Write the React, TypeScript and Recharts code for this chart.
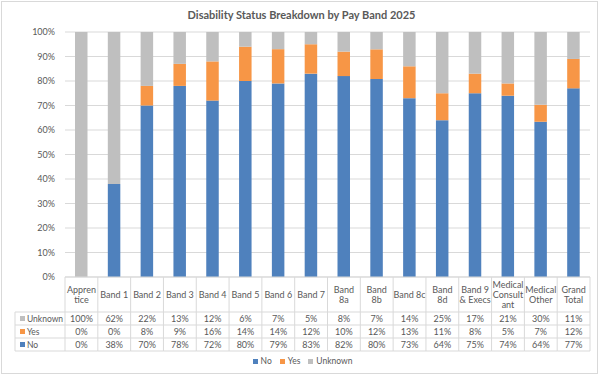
import React from 'react';
import { BarChart, Bar, XAxis, YAxis, CartesianGrid, Legend } from 'recharts';

const categories = ['Apprentice', 'Band 1', 'Band 2', 'Band 3', 'Band 4', 'Band 5', 'Band 6', 'Band 7', 'Band 8a', 'Band 8b', 'Band 8c', 'Band 8d', 'Band 9 & Execs', 'Medical Consultant', 'Medical Other', 'Grand Total'];
const headerLines = [['Appren', 'tice'], ['Band 1'], ['Band 2'], ['Band 3'], ['Band 4'], ['Band 5'], ['Band 6'], ['Band 7'], ['Band', '8a'], ['Band', '8b'], ['Band 8c'], ['Band', '8d'], ['Band 9', '& Execs'], ['Medical', 'Consult', 'ant'], ['Medical', 'Other'], ['Grand', 'Total']];
const noValues = [0, 38, 70, 78, 72, 80, 79, 83, 82, 80, 73, 64, 75, 74, 64, 77];
const yesValues = [0, 0, 8, 9, 16, 14, 14, 12, 10, 12, 13, 11, 8, 5, 7, 12];
const unknownValues = [100, 62, 22, 13, 12, 6, 7, 5, 8, 7, 14, 25, 17, 21, 30, 11];
const yTicks = [0, 0.1, 0.2, 0.3, 0.4, 0.5, 0.6, 0.7, 0.8, 0.9, 1];

const seriesInfo = [
  { key: 'No', color: '#4F81BD', values: noValues },
  { key: 'Yes', color: '#F79646', values: yesValues },
  { key: 'Unknown', color: '#BFBFBF', values: unknownValues },
];

const data = categories.map((c, i) => ({
  name: c,
  No: noValues[i],
  Yes: yesValues[i],
  Unknown: unknownValues[i],
}));

const FONT = 'Lato, "Open Sans", sans-serif';
const TEXT = '#595959';
const GRID = '#D9D9D9';
const COL_W = (590 - 65) / categories.length;
const ROW_LINES = [35, 48, 61, 74];
const ROW_TEXT = [41.5, 54.5, 67.5];
const tableRows = [seriesInfo[2], seriesInfo[1], seriesInfo[0]];

const fmt = (v: number) => `${v}%`;

function TableTick(props: any) {
  const { x, y, payload } = props;
  const i = payload.index;
  const left = x - COL_W / 2;
  const right = x + COL_W / 2;
  const lines = headerLines[i];
  const startY = y + 17 - ((lines.length - 1) * 10) / 2;
  return (
    <g>
      <line x1={left} x2={left} y1={y} y2={y + 74} stroke={GRID} />
      {i === categories.length - 1 && <line x1={right} x2={right} y1={y} y2={y + 74} stroke={GRID} />}
      {ROW_LINES.map((r) => (
        <line key={r} x1={left} x2={right} y1={y + r} y2={y + r} stroke={GRID} />
      ))}
      {lines.map((t, k) => (
        <text key={k} x={x} y={startY + k * 10} textAnchor="middle" dominantBaseline="central" fill={TEXT} fontSize={9} fontFamily={FONT}>
          {t}
        </text>
      ))}
      {tableRows.map((s, k) => (
        <text key={s.key} x={x} y={y + ROW_TEXT[k]} textAnchor="middle" dominantBaseline="central" fill={TEXT} fontSize={9} fontFamily={FONT}>
          {fmt(s.values[i])}
        </text>
      ))}
      {i === 0 && (
        <g>
          <line x1={15} x2={15} y1={y + 35} y2={y + 74} stroke={GRID} />
          {ROW_LINES.map((r) => (
            <line key={r} x1={15} x2={left} y1={y + r} y2={y + r} stroke={GRID} />
          ))}
          {tableRows.map((s, k) => (
            <g key={s.key}>
              <rect x={20} y={y + ROW_TEXT[k] - 2.5} width={5} height={5} fill={s.color} />
              <text x={27} y={y + ROW_TEXT[k]} dominantBaseline="central" fill={TEXT} fontSize={8.5} fontFamily={FONT}>
                {s.key}
              </text>
            </g>
          ))}
        </g>
      )}
    </g>
  );
}

function LegendContent() {
  return (
    <div style={{ height: 20, display: 'flex', justifyContent: 'center', alignItems: 'center', fontFamily: FONT, fontSize: 8.5, color: TEXT }}>
      {seriesInfo.map((s) => (
        <div key={s.key} style={{ display: 'flex', alignItems: 'center', margin: '0 4px' }}>
          <div style={{ width: 5, height: 5, background: s.color, marginRight: 3 }} />
          <span>{s.key}</span>
        </div>
      ))}
    </div>
  );
}

export default function App() {
  return (
    <div style={{ position: 'absolute', left: 0, top: 0, width: 603, height: 377, background: '#fff' }}>
      <div style={{ position: 'absolute', left: 1, top: 1, width: 597, height: 373, border: `1px solid ${GRID}`, boxSizing: 'border-box' }} />
      <div style={{ position: 'absolute', left: 0, top: 7, width: 603, textAlign: 'center', fontFamily: FONT, fontWeight: 'bold', fontSize: 11, color: TEXT, lineHeight: '16px' }}>
        Disability Status Breakdown by Pay Band 2025
      </div>
      <BarChart
        width={603}
        height={377}
        data={data}
        stackOffset="expand"
        barSize={12.5}
        margin={{ top: 32, right: 13, left: 15, bottom: 6 }}
        style={{ position: 'absolute', left: 0, top: 0 }}
      >
        <CartesianGrid vertical={false} stroke={GRID} />
        <XAxis
          dataKey="name"
          interval={0}
          height={74}
          tickSize={0}
          tickMargin={0}
          tickLine={false}
          axisLine={{ stroke: GRID }}
          tick={<TableTick />}
        />
        <YAxis
          width={50}
          domain={[0, 1]}
          ticks={yTicks}
          tickFormatter={(v: number) => `${Math.round(v * 100)}%`}
          axisLine={false}
          tickLine={false}
          tickSize={6}
          tickMargin={4}
          tick={{ fill: TEXT, fontSize: 9, fontFamily: FONT }}
        />
        <Legend verticalAlign="bottom" content={<LegendContent />} />
        {seriesInfo.map((s) => (
          <Bar key={s.key} dataKey={s.key} stackId="a" fill={s.color} isAnimationActive={false} />
        ))}
      </BarChart>
    </div>
  );
}
